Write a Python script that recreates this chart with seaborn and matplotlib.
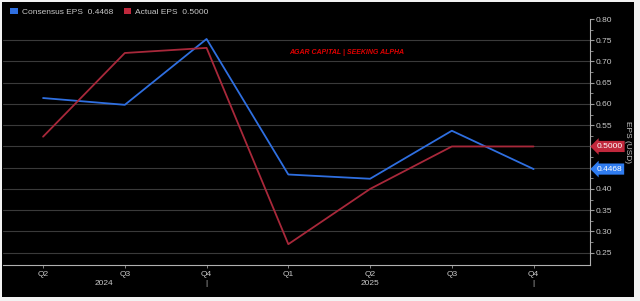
import pandas as pd
import seaborn as sns
import matplotlib.pyplot as plt
from matplotlib.patches import Rectangle, Patch
import matplotlib.transforms as mtransforms

# quarters shown on the x axis (Q2 2024 .. Q4 2025)
quarters = ["Q2", "Q3", "Q4", "Q1", "Q2", "Q3", "Q4"]
consensus_eps = [0.614, 0.598, 0.753, 0.434, 0.424, 0.537, 0.4468]
actual_eps = [0.523, 0.720, 0.732, 0.270, 0.400, 0.500, 0.500]
year_labels = ["2024", "|", "2025", "|"]
year_pos = [0.75, 2, 4, 6]
y_ticks = [0.25, 0.30, 0.35, 0.40, 0.45, 0.50, 0.55, 0.60, 0.65, 0.70, 0.75, 0.80]

blue = "#2f6fe0"
red = "#a8283a"
txt = "#c8c8c8"
fs = 6

df = pd.DataFrame({
    "idx": list(range(len(quarters))) * 2,
    "eps": consensus_eps + actual_eps,
    "series": ["Consensus"] * len(quarters) + ["Actual"] * len(quarters),
})

sns.set_style("dark")
plt.rcParams['font.family'] = ['Liberation Sans', 'DejaVu Sans']

fig = plt.figure(figsize=(6.4, 3.01), dpi=100, facecolor="#f2f2f2")
# black panel inside a thin light frame
fig.patches.append(Rectangle((2 / 640, 4 / 301), 632 / 640, 295 / 301,
                             transform=fig.transFigure, facecolor="black",
                             edgecolor="none", zorder=-5))
ax = fig.add_axes([3 / 640, 36 / 301, 587 / 640, (301 - 19 - 36) / 301])
ax.set_zorder(2)
ax.set_facecolor("black")

sns.lineplot(data=df, x="idx", y="eps", hue="series",
             palette={"Consensus": blue, "Actual": red},
             linewidth=1.3, legend=False, ax=ax)

ax.set_xlim(-0.49, 6.69)
ax.set_ylim(0.221, 0.80)

# y axis on the right; the value tags hide the 0.45 / 0.50 labels
ax.yaxis.tick_right()
ax.set_yticks(y_ticks)
ax.set_yticklabels(["" if v in (0.45, 0.50) else f"{v:.2f}" for v in y_ticks])
ax.set_yticks([v + 0.025 for v in y_ticks[:-1]], minor=True)
ax.tick_params(axis="y", which="major", colors="#9a9a9a", labelcolor=txt,
               labelsize=fs, length=3, width=0.8, pad=1, right=True, left=False)
ax.tick_params(axis="y", which="minor", colors="#9a9a9a", length=2, width=0.6,
               right=True, left=False)
ax.set_ylabel("EPS (USD)", color=txt, fontsize=fs, rotation=270, va="center")
ax.yaxis.set_label_coords(1.064, 0.5)

ax.set_xticks(range(len(quarters)))
ax.set_xticklabels(quarters)
ax.tick_params(axis="x", colors="#9a9a9a", labelcolor=txt, labelsize=fs,
               length=2, width=0.6, pad=2, bottom=True)
ax.set_xlabel("")

# horizontal grid only
ax.grid(False)
for v in y_ticks[:-1]:
    ax.axhline(v, color="#3a3a3a", linewidth=0.8, zorder=0)

for s in ["top", "left"]:
    ax.spines[s].set_visible(False)
for s in ["bottom", "right"]:
    ax.spines[s].set_visible(True)
    ax.spines[s].set_color("#b0b0b0")
    ax.spines[s].set_linewidth(0.8)

# year row under the quarter labels
trans = mtransforms.blended_transform_factory(ax.transData, ax.transAxes)
for lab, p in zip(year_labels, year_pos):
    ax.text(p, -0.062, lab, transform=trans, ha="center", va="top",
            color=txt, fontsize=fs)

# last value tags on the right axis
ttrans = mtransforms.blended_transform_factory(ax.transAxes, ax.transData)
ax.text(1.011, actual_eps[-1], f"{actual_eps[-1]:.4f}", transform=ttrans,
        ha="left", va="center", color="white", fontsize=fs, zorder=5,
        bbox=dict(boxstyle="larrow,pad=0.25", facecolor="#c0283c", edgecolor="none"))
ax.text(1.011, consensus_eps[-1], f"{consensus_eps[-1]:.4f}", transform=ttrans,
        ha="left", va="center", color="white", fontsize=fs, zorder=5,
        bbox=dict(boxstyle="larrow,pad=0.25", facecolor="#2f7cf0", edgecolor="none"))

# legend
handles = [Patch(facecolor=blue, edgecolor="none"), Patch(facecolor="#c0283c", edgecolor="none")]
labels = [f"Consensus EPS  {consensus_eps[-1]:.4f}", f"Actual EPS  {actual_eps[-1]:.4f}"]
fig.legend(handles, labels, loc="upper left", bbox_to_anchor=(0.004, 1.0),
           ncol=2, frameon=False, fontsize=fs, labelcolor=txt,
           handlelength=0.9, handleheight=0.9, handletextpad=0.5, columnspacing=1.3)

fig.text(347 / 640, 1 - 52 / 301, "AGAR CAPITAL | SEEKING ALPHA", color="#e00000",
         fontsize=5, fontweight="bold", style="italic", ha="center", va="center")

fig.savefig("out.png", dpi=100, facecolor=fig.get_facecolor())
